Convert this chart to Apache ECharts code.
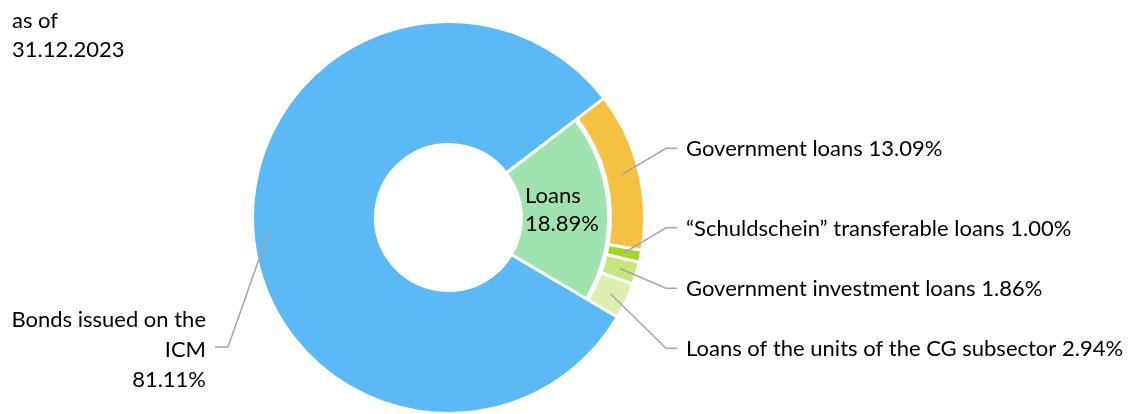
<!DOCTYPE html>
<html>
<head>
<meta charset="utf-8">
<script src="https://cdn.jsdelivr.net/npm/echarts@6/dist/echarts.min.js"></script>
<style>html,body{margin:0;padding:0;background:#fff;}#c{width:1128px;height:414px;}</style>
</head>
<body>
<div id="c"></div>
<script>
// ---- data ----
const dateText = 'as of\n31.12.2023';
const mainNames = ['Loans', 'Bonds issued on the ICM'];
const mainValues = [18.89, 81.11];
const loanNames = ['Government loans', '\u201CSchuldschein\u201D transferable loans', 'Government investment loans', 'Loans of the units of the CG subsector'];
const loanValues = [13.09, 1.00, 1.86, 2.94];

// ---- layout / style ----
const CX = 448.5, CY = 217.5;
const R_HOLE = 73, R_LOANS = 160, R_RING_IN = 162, R_OUT = 196, R_LINE = 179;
const START = 37.5;
const FONT = 'Lato';
const FS = 22;
const RIGHT_LABEL_X = 686;
const RIGHT_LABEL_Y = [149, 228.5, 289, 349];
const LEFT_LABEL_X = 206, LEFT_LABEL_Y = 350, LEFT_LINE_Y = 347;
const LOANS_LABEL_X = 525, LOANS_LABEL_Y = 210;
const blue = '#5BB9F5', loansGreen = '#9FE3AF';
const ringColors = ['#F5C142', '#A5D62A', '#C8E67E', '#DCEFAF'];
const lineColor = '#A6A6A6';

const total = mainValues.reduce((a, b) => a + b, 0);
function polar(deg, r) {
  const a = deg * Math.PI / 180;
  return [CX + r * Math.cos(a), CY - r * Math.sin(a)];
}
function midAngle(cumBefore, v) {
  return START - (cumBefore + v / 2) / total * 360;
}
const ringMid = [];
{ let c = 0; loanValues.forEach(v => { ringMid.push(midAngle(c, v)); c += v; }); }
const bondsMid = midAngle(mainValues[0], mainValues[1]);

const hidden = { color: 'transparent', borderWidth: 0 };
const baseLabel = { fontFamily: FONT, fontSize: FS, color: '#000' };
const common = { type: 'pie', silent: true, center: [CX, CY], startAngle: START, clockwise: true, avoidLabelOverlap: false };

const chart = echarts.init(document.getElementById('c'), null, { renderer: 'canvas' });
chart.setOption({
  animation: false,
  title: {
    text: dateText, left: 12, top: 6, padding: 0,
    textStyle: { fontFamily: FONT, fontSize: FS, fontWeight: 'normal', color: '#000', lineHeight: 29 }
  },
  series: [
    { // bonds full-depth sector
      ...common, z: 2, radius: [R_HOLE, R_OUT],
      label: { show: false }, labelLine: { show: false },
      data: [
        { name: mainNames[0], value: mainValues[0], itemStyle: hidden },
        { name: mainNames[1], value: mainValues[1], itemStyle: { color: blue, borderColor: '#fff', borderWidth: 3 } }
      ]
    },
    { // loans inner sector
      ...common, z: 2, radius: [R_HOLE, R_LOANS],
      data: [
        { name: mainNames[0], value: mainValues[0], itemStyle: { color: loansGreen, borderColor: '#fff', borderWidth: 3 } },
        { name: mainNames[1], value: mainValues[1], itemStyle: hidden, label: { show: false } }
      ],
      label: {
        show: true, position: 'inside', ...baseLabel, lineHeight: 28, align: 'left',
        formatter: p => p.name + '\n' + p.value.toFixed(2) + '%'
      },
      labelLine: { show: false },
      labelLayout: p => ({ x: LOANS_LABEL_X, y: LOANS_LABEL_Y, align: 'left', verticalAlign: 'middle' })
    },
    { // outer ring breakdown of loans
      ...common, z: 2, radius: [R_RING_IN, R_OUT],
      label: { show: false }, labelLine: { show: false },
      data: loanNames.map((n, i) => ({
        name: n, value: loanValues[i],
        itemStyle: { color: ringColors[i], borderColor: '#fff', borderWidth: 3 }
      })).concat([{ name: mainNames[1], value: mainValues[1], itemStyle: hidden }])
    },
    { // labels + leader lines drawn above all sectors
      ...common, z: 5, radius: [R_RING_IN, R_OUT],
      data: loanNames.map((n, i) => ({ name: n, value: loanValues[i], itemStyle: hidden }))
        .concat([{ name: mainNames[1], value: mainValues[1], itemStyle: hidden }]),
      label: {
        show: true, position: 'outside', ...baseLabel, lineHeight: 30,
        formatter: p => p.dataIndex < loanValues.length
          ? p.name + ' ' + p.value.toFixed(2) + '%'
          : p.name.replace(' ICM', '\nICM') + '\n' + p.value.toFixed(2) + '%'
      },
      labelLine: { show: true, lineStyle: { color: lineColor, width: 1.5 } },
      labelLayout: p => {
        const i = p.dataIndex;
        if (i >= loanValues.length) {
          const p0 = polar(bondsMid, R_LINE);
          const endX = LEFT_LABEL_X + 9;
          return {
            x: LEFT_LABEL_X, y: LEFT_LABEL_Y, align: 'right', verticalAlign: 'middle',
            labelLinePoints: [p0, [endX + 13, LEFT_LINE_Y], [endX, LEFT_LINE_Y]]
          };
        }
        const p0 = polar(ringMid[i], R_LINE);
        const y = RIGHT_LABEL_Y[i];
        const endX = RIGHT_LABEL_X - 9;
        return {
          x: RIGHT_LABEL_X, y: y, align: 'left', verticalAlign: 'middle',
          labelLinePoints: [p0, [endX - 11, y - 0.7], [endX, y - 0.7]]
        };
      }
    }
  ]
});
</script>
</body>
</html>
